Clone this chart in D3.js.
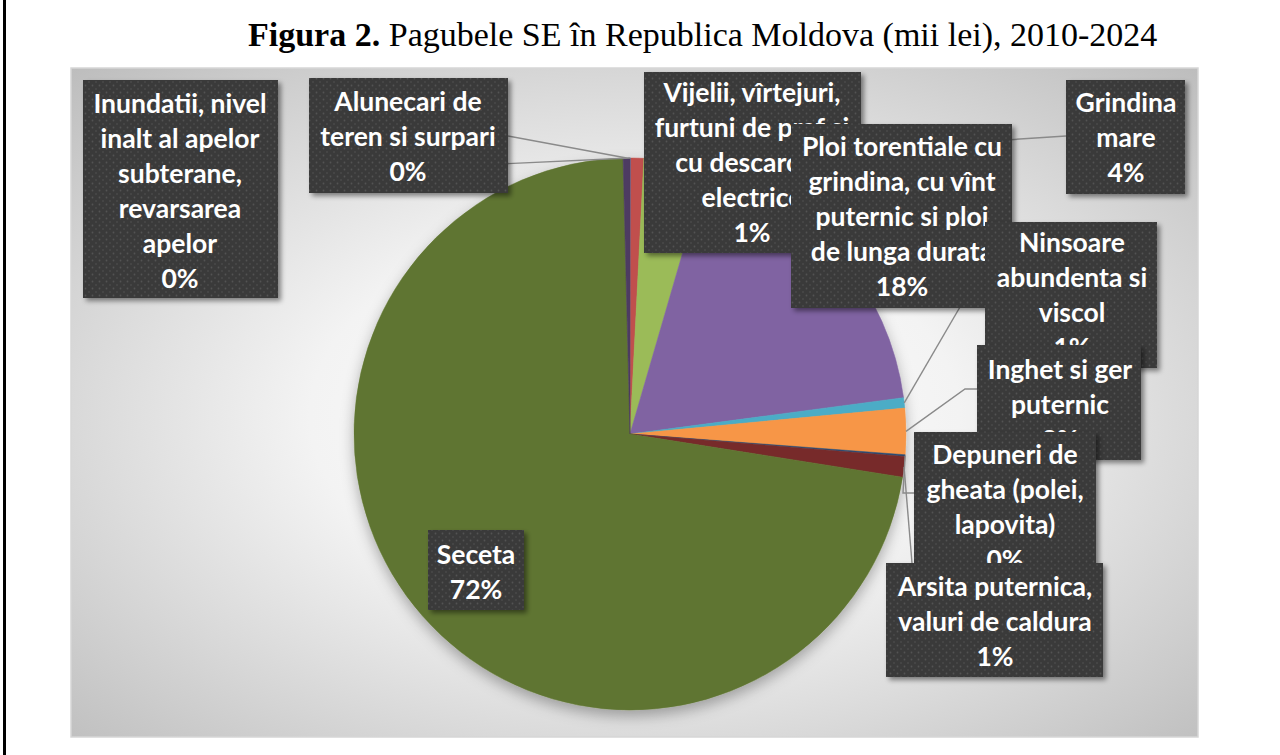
<!DOCTYPE html>
<html>
<head>
<meta charset="utf-8">
<script src="https://cdn.jsdelivr.net/npm/d3@7"></script>
<style>
  body { margin: 0; background: #fff; }
  svg { display: block; }
</style>
</head>
<body>
<svg width="1280" height="755"></svg>
<script>
// categories in slice order (clockwise from 12 o'clock), \n marks label wrap
var categories = [
    'Inundatii, nivel\ninalt al apelor\nsubterane,\nrevarsarea\napelor',
    'Vijelii, vîrtejuri,\nfurtuni de praf si\ncu descarcari\nelectrice',
    'Grindina\nmare',
    'Ploi torentiale cu\ngrindina, cu vînt\nputernic si ploi\nde lunga durata',
    'Ninsoare\nabundenta si\nviscol',
    'Inghet si ger\nputernic',
    'Depuneri de\ngheata (polei,\nlapovita)',
    'Arsita puternica,\nvaluri de caldura',
    'Seceta',
    'Alunecari de\nteren si surpari'
];
// share of total damage, %
var values = [0.05, 0.75, 3.7, 18.4, 0.6, 2.7, 0.1, 1.2, 72.1, 0.4];

var colors = ['#4F81BD', '#C0504D', '#9BBB59', '#8064A2', '#4BACC6',
              '#F79646', '#2C4D75', '#772C2A', '#5F7530', '#4D3B62'];

var titleBold = 'Figura 2.';
var titleRest = ' Pagubele SE în Republica Moldova (mii lei), 2010-2024';

// label boxes: [x0, y0, x1, y1], text centre, first baseline, leader start / elbow
var labelLayout = [
    {box: [83, 80, 278, 298], cx: 180, y: 113, from: [500, 164]},
    {box: [644, 72, 861, 253], cx: 752, y: 102},
    {box: [1066, 80, 1185, 194], cx: 1126, y: 112, from: [1066, 136]},
    {box: [791, 124, 1012, 308], cx: 902, y: 156},
    {box: [985, 222, 1157, 368], cx: 1072, y: 252, from: [985, 264]},
    {box: [977, 345, 1141, 460], cx: 1060, y: 379, from: [977, 389], elbow: [965, 389]},
    {box: [914, 432, 1096, 578], cx: 1005, y: 464, from: [914, 493], elbow: [903, 493]},
    {box: [886, 563, 1103, 677], cx: 995, y: 596, from: [912, 563]},
    {box: [428, 530, 524, 610], cx: 476, y: 564},
    {box: [309, 78, 508, 193], cx: 408, y: 111, from: [508, 136]}
];

var cx = 630, cy = 434, R = 276, lineH = 35;

var svg = d3.select('svg');
var defs = svg.append('defs');

// panel background gradient
var grad = defs.append('radialGradient')
    .attr('id', 'panelGrad')
    .attr('cx', '0.5').attr('cy', '0.52').attr('r', '0.72');
grad.append('stop').attr('offset', '0').attr('stop-color', '#ffffff');
grad.append('stop').attr('offset', '0.4').attr('stop-color', '#f3f3f3');
grad.append('stop').attr('offset', '1').attr('stop-color', '#bdbdbd');

// dotted texture for the label boxes
var pat = defs.append('pattern')
    .attr('id', 'dots')
    .attr('patternUnits', 'userSpaceOnUse')
    .attr('width', 7).attr('height', 7);
pat.append('rect').attr('width', 7).attr('height', 7).attr('fill', '#3a3a3a');
pat.append('circle').attr('cx', 1.5).attr('cy', 1.5).attr('r', 0.9).attr('fill', '#535353');
pat.append('circle').attr('cx', 5).attr('cy', 5).attr('r', 0.9).attr('fill', '#4a4a4a');

var shadow = defs.append('filter').attr('id', 'boxShadow')
    .attr('x', '-10%').attr('y', '-10%').attr('width', '130%').attr('height', '130%');
shadow.append('feDropShadow')
    .attr('dx', 3).attr('dy', 3).attr('stdDeviation', 2.5)
    .attr('flood-color', '#000').attr('flood-opacity', 0.45);

var pieShadow = defs.append('filter').attr('id', 'pieShadow')
    .attr('x', '-20%').attr('y', '-20%').attr('width', '140%').attr('height', '140%');
pieShadow.append('feDropShadow')
    .attr('dx', 0).attr('dy', 6).attr('stdDeviation', 7)
    .attr('flood-color', '#000').attr('flood-opacity', 0.3);

// page border on the left
svg.append('line')
    .attr('x1', 4.5).attr('x2', 4.5).attr('y1', 0).attr('y2', 755)
    .attr('stroke', '#000').attr('stroke-width', 3);

// title
var title = svg.append('text')
    .attr('x', 248).attr('y', 46)
    .style('font-family', '"Liberation Serif", "Times New Roman", serif')
    .style('font-size', '34px')
    .attr('fill', '#000');
title.append('tspan').style('font-weight', 'bold').text(titleBold);
title.append('tspan').text(titleRest);

// chart area
svg.append('rect')
    .attr('x', 71).attr('y', 68)
    .attr('width', 1127).attr('height', 669)
    .attr('fill', 'url(#panelGrad)')
    .attr('stroke', '#d6d6d6').attr('stroke-width', 1.5);

var pie = d3.pie().sort(null).value(function(d) { return d; });
var arcs = pie(values);
var arc = d3.arc().innerRadius(0).outerRadius(R);
var edgeArc = d3.arc().innerRadius(R).outerRadius(R);
var pct = d3.format('.0%');
var total = d3.sum(values);

var pieG = svg.append('g')
    .attr('transform', 'translate(' + cx + ',' + cy + ')')
    .attr('filter', 'url(#pieShadow)');

pieG.selectAll('path')
    .data(arcs)
    .enter()
    .append('path')
    .attr('d', arc)
    .attr('fill', function(d, i) { return colors[i]; })
    .attr('stroke', function(d, i) { return colors[i]; })
    .attr('stroke-width', 0.5);

// leader lines, under the labels
var leaderG = svg.append('g');
arcs.forEach(function(d, i) {
    var L = labelLayout[i];
    if (!L.from) return;
    var p = edgeArc.centroid(d);
    var pts = [L.from];
    if (L.elbow) pts.push(L.elbow);
    pts.push([cx + p[0], cy + p[1]]);
    leaderG.append('path')
        .attr('d', d3.line()(pts))
        .attr('fill', 'none')
        .attr('stroke', '#8a8a8a')
        .attr('stroke-width', 1.4);
});

// labels, later ones drawn on top
var labelG = svg.append('g')
    .style('font-family', 'Lato, "Open Sans", sans-serif')
    .style('font-weight', 'bold')
    .style('font-size', '26.5px');

arcs.forEach(function(d, i) {
    var L = labelLayout[i];
    var b = L.box;
    var g = labelG.append('g');
    defs.append('clipPath').attr('id', 'clip' + i)
        .append('rect')
        .attr('x', b[0]).attr('y', b[1])
        .attr('width', b[2] - b[0]).attr('height', b[3] - b[1]);

    g.append('rect')
        .attr('x', b[0]).attr('y', b[1])
        .attr('width', b[2] - b[0]).attr('height', b[3] - b[1])
        .attr('fill', '#3a3a3a')
        .attr('filter', 'url(#boxShadow)');
    g.append('rect')
        .attr('x', b[0]).attr('y', b[1])
        .attr('width', b[2] - b[0]).attr('height', b[3] - b[1])
        .attr('fill', 'url(#dots)');

    var lines = categories[i].split('\n').concat([pct(d.data / total)]);
    g.append('g')
        .attr('clip-path', 'url(#clip' + i + ')')
        .selectAll('text')
        .data(lines)
        .enter()
        .append('text')
        .attr('x', L.cx)
        .attr('y', function(t, k) { return L.y + k * lineH; })
        .attr('text-anchor', 'middle')
        .attr('fill', '#ffffff')
        .text(function(t) { return t; });
});
</script>
</body>
</html>
